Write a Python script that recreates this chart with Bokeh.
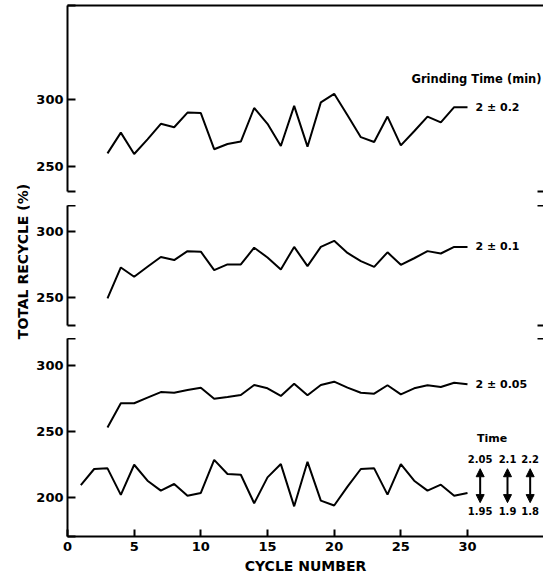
import math
from bokeh.plotting import figure
from bokeh.layouts import column, row
from bokeh.models import (Range1d, FixedTicker, LinearAxis, Label, Arrow,
                          NormalHead, CustomJSTickFormatter)
from bokeh.embed import file_html
from bokeh.resources import INLINE

# ---------------- data ----------------
cycles = list(range(3, 31))
recycle_02 = [259.5, 275, 259, 270, 281.6, 279, 290, 289.6, 262.6, 266.5, 268.3,
              293.4, 281.6, 265, 295, 264.5, 297.6, 304, 288, 271.6, 268, 287,
              265.5, 276, 287, 282.6, 294, 294]
recycle_01 = [249.5, 273, 266, 273.5, 281, 278.6, 285.4, 285, 271, 275.3, 275.3,
              288, 280.6, 271.5, 288.6, 274, 288.6, 293.2, 284, 277.8, 273.5,
              284.5, 275, 280, 285.4, 283.6, 288.6, 288.6]
recycle_005 = [253, 271.3, 271.3, 275.5, 279.7, 279.2, 281.2, 283, 274.7, 276,
               277.5, 285, 282.5, 276.8, 286, 277.3, 285, 287.5, 283, 279.2,
               278.5, 284.8, 278, 282.5, 284.8, 283.5, 286.7, 285.5]
cycles_time = list(range(1, 31))
recycle_time = [209.7, 221.8, 222.3, 202.3, 225, 213, 205.5, 210.5, 201.7, 203.8,
                228.7, 218, 217.5, 196, 215.5, 225.5, 193.7, 227.2, 198, 194.3,
                208.5, 221.8, 222.3, 202.5, 225.5, 213, 205.5, 210, 201.7, 203.8]

x_ticks = [0, 5, 10, 15, 20, 25, 30]
series_labels = ["2 \u00b1 0.2", "2 \u00b1 0.1", "2 \u00b1 0.05"]
time_hi = ["2.05", "2.1", "2.2"]
time_lo = ["1.95", "1.9", "1.8"]
arrow_x = [30.95, 33.0, 34.7]

FONT = "DejaVu Sans"
TITLE_W = 30
W = 543 - TITLE_W
X_END = 35.7
LEFT = 37


def make_panel(y0, y1, ticks, right_ticks, height, btop, bbot):
    p = figure(width=W, height=height, x_range=Range1d(0, X_END),
               y_range=Range1d(y0, y1), output_backend="svg",
               toolbar_location=None, x_axis_location=None,
               y_axis_location=None, min_border_left=LEFT, min_border_right=0,
               min_border_top=btop, min_border_bottom=bbot)
    p.grid.visible = False
    p.outline_line_color = None

    ya = LinearAxis(ticker=FixedTicker(ticks=[y0] + ticks + [y1]),
                    formatter=CustomJSTickFormatter(
                        code="return [200,250,300].includes(Math.round(tick)) && Math.abs(tick-Math.round(tick))<1e-6 ? String(Math.round(tick)) : ''"))
    ya.major_tick_in = 8
    ya.major_tick_out = 0
    ya.minor_tick_line_color = None
    ya.axis_line_width = 2
    ya.major_tick_line_width = 2
    ya.major_label_standoff = 4
    ya.major_label_text_font = FONT
    ya.major_label_text_font_style = "bold"
    ya.major_label_text_font_size = "13px"
    ya.major_label_text_color = "black"
    p.add_layout(ya, "left")

    if right_ticks:
        ra = LinearAxis(ticker=FixedTicker(ticks=right_ticks),
                        formatter=CustomJSTickFormatter(code="return ''"))
        ra.axis_line_color = None
        ra.major_tick_in = 6
        ra.major_tick_out = 0
        ra.major_tick_line_width = 2
        ra.minor_tick_line_color = None
        ra.major_label_standoff = 0
        ra.major_label_text_font_size = "1px"
        p.add_layout(ra, "right")
    return p, ya


def note(p, x, y, text, size="11px", align="left"):
    p.add_layout(Label(x=x, y=y, text=text, text_align=align,
                       text_baseline="middle", text_font=FONT,
                       text_font_style="bold", text_font_size=size,
                       text_color="black"))


# ---------- y-axis title strip ----------
pt = figure(width=TITLE_W, height=577, x_range=Range1d(0, 1), y_range=Range1d(0, 1),
            output_backend="svg", toolbar_location=None, x_axis_location=None,
            y_axis_location=None, min_border=0)
pt.grid.visible = False
pt.outline_line_color = None
pt.add_layout(Label(x=22.5, y=316, x_units="screen", y_units="screen",
                    text="TOTAL RECYCLE (%)", angle=math.pi / 2,
                    text_align="center", text_baseline="middle",
                    text_font=FONT, text_font_style="bold",
                    text_font_size="14px", text_color="black"))

# ---------- top panel ----------
p1, ya1 = make_panel(231, 370, [250, 300], [231], 205, 5, 14)
top = LinearAxis(ticker=FixedTicker(ticks=[]),
                 formatter=CustomJSTickFormatter(code="return ''"))
top.axis_line_width = 2
top.major_tick_line_color = None
top.minor_tick_line_color = None
top.major_label_standoff = 0
top.major_label_text_font_size = "1px"
p1.add_layout(top, "above")
p1.line(cycles, recycle_02, line_color="black", line_width=2)
note(p1, 25.8, 315.4, "Grinding Time (min)", size="11.5px")
note(p1, 30.6, recycle_02[-1], series_labels[0])

# ---------- middle panel ----------
p2, ya2 = make_panel(229, 320, [250, 300], [229, 320], 133, 0, 13)
p2.line(cycles, recycle_01, line_color="black", line_width=2)
note(p2, 30.6, recycle_01[-1], series_labels[1])

# ---------- bottom panel ----------
p3, ya3 = make_panel(171, 320, [200, 250, 300], [320], 239, 0, 41)
xa = LinearAxis(ticker=FixedTicker(ticks=x_ticks))
xa.major_tick_in = 7
xa.major_tick_out = 0
xa.minor_tick_line_color = None
xa.axis_line_width = 2
xa.major_tick_line_width = 2
xa.major_label_standoff = 5
xa.major_label_text_font = FONT
xa.major_label_text_font_style = "bold"
xa.major_label_text_font_size = "13px"
xa.major_label_text_color = "black"
xa.axis_label = "CYCLE NUMBER"
xa.axis_label_standoff = 4
xa.axis_label_text_font = FONT
xa.axis_label_text_font_style = "bold"
xa.axis_label_text_font_size = "14px"
xa.axis_label_text_color = "black"
p3.add_layout(xa, "below")
p3.line(cycles, recycle_005, line_color="black", line_width=2)
p3.line(cycles_time, recycle_time, line_color="black", line_width=2)
note(p3, 30.6, recycle_005[-1], series_labels[2])
note(p3, 31.85, 244.5, "Time", align="center")
for xa_, hi, lo in zip(arrow_x, time_hi, time_lo):
    note(p3, xa_, 229.5, hi, size="10px", align="center")
    note(p3, xa_, 190.5, lo, size="10px", align="center")
    p3.add_layout(Arrow(x_start=xa_, y_start=222, x_end=xa_, y_end=196.5,
                        line_width=2, line_color="black",
                        start=NormalHead(size=8, fill_color="black", line_color="black"),
                        end=NormalHead(size=8, fill_color="black", line_color="black")))

layout = row(pt, column(p1, p2, p3, spacing=0), spacing=0)
open("out.html", "w").write(file_html(layout, INLINE))
